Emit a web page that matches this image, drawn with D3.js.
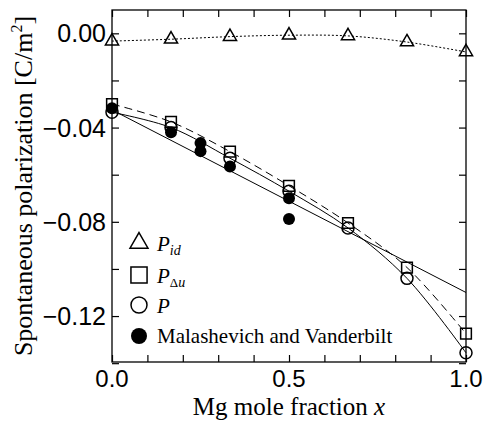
<!DOCTYPE html>
<html><head><meta charset="utf-8">
<script src="https://cdn.jsdelivr.net/npm/d3@7"></script>
<style>body{margin:0;background:#fff}svg{display:block}</style>
</head><body><div id="chart"></div>
<script>
// ---- data ----
const xs   = [0, 0.1667, 0.3333, 0.5, 0.6667, 0.8333, 1.0];
const pId  = [-0.0033, -0.0025, -0.0014, -0.0008, -0.0011, -0.0037, -0.0079];
const pDu  = [-0.0300, -0.0376, -0.0502, -0.0647, -0.0805, -0.0994, -0.1275];
const pTot = [-0.0335, -0.0400, -0.0530, -0.0670, -0.0826, -0.1040, -0.1356];
const mvX  = [0, 0.1667, 0.25, 0.25, 0.3333, 0.5, 0.5];
const mvY  = [-0.0318, -0.0420, -0.0466, -0.0500, -0.0565, -0.0700, -0.0788];
const fitX = [0, 1];
const fitY = [-0.0325, -0.1100];
const xTickLabels = [0.0, 0.5, 1.0];
const yTickLabels = [0.00, -0.04, -0.08, -0.12];

const W = 486, H = 421;
const m = {l:112, t:10, r:20, b:59};
const svg = d3.select("#chart").append("svg").attr("width", W).attr("height", H);
const x = d3.scaleLinear().domain([0, 1]).range([m.l, W - m.r]);
const y = d3.scaleLinear().domain([-0.1395, 0.0099]).range([H - m.b, m.t]);

const serif = "'Liberation Serif','Times New Roman',serif";
const sans = "'Liberation Sans',Arial,Helvetica,sans-serif";

// frame
svg.append("rect").attr("x", m.l).attr("y", m.t)
  .attr("width", W - m.l - m.r).attr("height", H - m.t - m.b)
  .attr("fill", "none").attr("stroke", "#000").attr("stroke-width", 1.3);

const tl = 7;
const xt = d3.range(0, 11).map(i => i / 10);
const yt = d3.range(0, 8).map(i => -i * 0.02);
// axes with inward ticks
svg.append("g").attr("transform", `translate(0,${H - m.b})`)
  .call(d3.axisBottom(x).tickValues(xt).tickSize(-tl).tickFormat(""))
  .call(g => g.select(".domain").remove());
svg.append("g").attr("transform", `translate(0,${m.t})`)
  .call(d3.axisTop(x).tickValues(xt).tickSize(-tl).tickFormat(""))
  .call(g => g.select(".domain").remove());
svg.append("g").attr("transform", `translate(${m.l},0)`)
  .call(d3.axisLeft(y).tickValues(yt).tickSize(-tl).tickFormat(""))
  .call(g => g.select(".domain").remove());
svg.append("g").attr("transform", `translate(${W - m.r},0)`)
  .call(d3.axisRight(y).tickValues(yt).tickSize(-tl).tickFormat(""))
  .call(g => g.select(".domain").remove());
svg.selectAll(".tick line").attr("stroke", "#000").attr("stroke-width", 1.2);

// tick labels
svg.append("g").selectAll("text").data(xTickLabels).join("text")
  .attr("x", d => x(d)).attr("y", H - m.b + 25)
  .attr("text-anchor", "middle").attr("font-family", sans).attr("font-size", 24)
  .text(d => d.toFixed(1));
svg.append("g").selectAll("text").data(yTickLabels).join("text")
  .attr("x", m.l - 6).attr("y", d => y(d)).attr("dy", "0.36em")
  .attr("text-anchor", "end").attr("font-family", sans).attr("font-size", 25)
  .text(d => (d < 0 ? "\u2212" : "") + Math.abs(d).toFixed(2));

// axis titles
const xTitle = svg.append("text").attr("x", (m.l + W - m.r) / 2).attr("y", 415)
  .attr("text-anchor", "middle").attr("font-family", serif).attr("font-size", 25);
xTitle.append("tspan").text("Mg mole fraction ");
xTitle.append("tspan").attr("font-style", "italic").text("x");

const yTitle = svg.append("text")
  .attr("transform", `translate(32,${(m.t + H - m.b) / 2}) rotate(-90)`)
  .attr("text-anchor", "middle").attr("font-family", serif).attr("font-size", 26);
yTitle.append("tspan").text("Spontaneous polarization [C/m");
yTitle.append("tspan").attr("font-size", 16).attr("dy", -10).text("2");
yTitle.append("tspan").attr("dy", 10).text("]");

// lines
const line = d3.line().x(d => x(d[0])).y(d => y(d[1]));
const smooth = d3.line().x(d => x(d[0])).y(d => y(d[1])).curve(d3.curveCatmullRom.alpha(0.5));
svg.append("path").datum(xs.map((v, i) => [v, pId[i]])).attr("d", smooth)
  .attr("fill", "none").attr("stroke", "#000").attr("stroke-width", 1).attr("stroke-dasharray", "2,2");
svg.append("path").datum(xs.map((v, i) => [v, pDu[i]])).attr("d", smooth)
  .attr("fill", "none").attr("stroke", "#000").attr("stroke-width", 1).attr("stroke-dasharray", "8,5");
svg.append("path").datum(xs.map((v, i) => [v, pTot[i]])).attr("d", smooth)
  .attr("fill", "none").attr("stroke", "#000").attr("stroke-width", 1);
svg.append("path").datum(fitX.map((v, i) => [v, fitY[i]])).attr("d", line)
  .attr("fill", "none").attr("stroke", "#000").attr("stroke-width", 1);

// markers
const tri = d3.symbol().type(d3.symbolTriangle).size(75);
const sq = d3.symbol().type(d3.symbolSquare).size(115);
svg.append("g").selectAll("path").data(xs.map((v, i) => [v, pId[i]])).join("path")
  .attr("d", tri).attr("transform", d => `translate(${x(d[0])},${y(d[1])})`)
  .attr("fill", "none").attr("stroke", "#000").attr("stroke-width", 1.5);
svg.append("g").selectAll("path").data(xs.map((v, i) => [v, pDu[i]])).join("path")
  .attr("d", sq).attr("transform", d => `translate(${x(d[0])},${y(d[1])})`)
  .attr("fill", "none").attr("stroke", "#000").attr("stroke-width", 1.5);
svg.append("g").selectAll("circle").data(xs.map((v, i) => [v, pTot[i]])).join("circle")
  .attr("cx", d => x(d[0])).attr("cy", d => y(d[1])).attr("r", 6)
  .attr("fill", "none").attr("stroke", "#000").attr("stroke-width", 1.5);
svg.append("g").selectAll("circle").data(mvX.map((v, i) => [v, mvY[i]])).join("circle")
  .attr("cx", d => x(d[0])).attr("cy", d => y(d[1])).attr("r", 6)
  .attr("fill", "#000");

// legend
const lx = 139, ltx = 157;
const lg = svg.append("g");
lg.append("path").attr("d", d3.symbol().type(d3.symbolTriangle).size(140))
  .attr("transform", `translate(${lx},243)`).attr("fill", "none").attr("stroke", "#000").attr("stroke-width", 1.5);
lg.append("path").attr("d", d3.symbol().type(d3.symbolSquare).size(260))
  .attr("transform", `translate(${lx},275)`).attr("fill", "none").attr("stroke", "#000").attr("stroke-width", 1.5);
lg.append("circle").attr("cx", lx).attr("cy", 305).attr("r", 8)
  .attr("fill", "none").attr("stroke", "#000").attr("stroke-width", 1.5);
lg.append("circle").attr("cx", lx).attr("cy", 336).attr("r", 8).attr("fill", "#000");

const t1 = lg.append("text").attr("x", ltx).attr("y", 251).attr("font-family", serif).attr("font-size", 21);
t1.append("tspan").attr("font-style", "italic").text("P");
t1.append("tspan").attr("font-style", "italic").attr("font-size", 14).attr("dy", 4).text("id");
const t2 = lg.append("text").attr("x", ltx).attr("y", 283).attr("font-family", serif).attr("font-size", 21);
t2.append("tspan").attr("font-style", "italic").text("P");
t2.append("tspan").attr("font-size", 13).attr("dy", 4).text("\u0394");
t2.append("tspan").attr("font-style", "italic").attr("font-size", 14).text("u");
lg.append("text").attr("x", ltx).attr("y", 313).attr("font-family", serif).attr("font-size", 21)
  .attr("font-style", "italic").text("P");
lg.append("text").attr("x", ltx).attr("y", 343).attr("font-family", serif).attr("font-size", 21)
  .text("Malashevich and Vanderbilt");
</script></body></html>
